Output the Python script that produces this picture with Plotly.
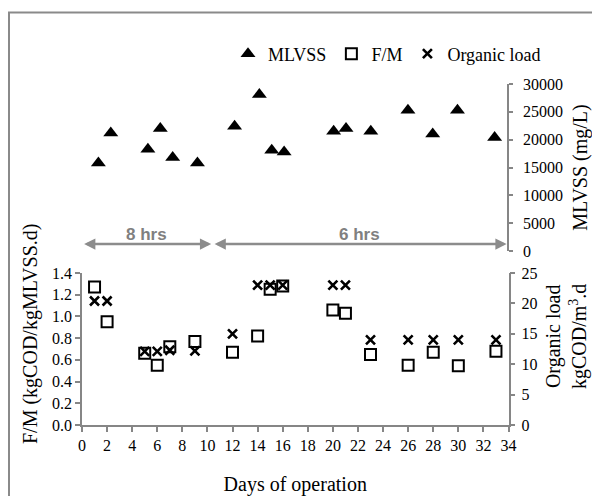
import plotly.graph_objects as go

# ---- data ----
days = [1, 2, 5, 6, 7, 9, 12, 14, 15, 16, 20, 21, 23, 26, 28, 30, 33]
mlvss = [15800, 21200, 18300, 22000, 16800, 15800, 22400, 28100, 18100,
         17800, 21500, 22000, 21500, 25300, 21000, 25300, 20400]
fm = [1.27, 0.95, 0.66, 0.55, 0.72, 0.77, 0.67, 0.82, 1.25, 1.28,
      1.06, 1.03, 0.65, 0.55, 0.67, 0.545, 0.68]
organic_load = [20.4, 20.4, 12.1, 12.1, 12.3, 12.2, 15.0, 23.0, 23.0, 23.0,
                23.0, 23.0, 14.0, 14.0, 14.0, 14.0, 14.0]
phase_start = [0.05, 10.45]
phase_end = [10.3, 33.85]
phase_labels = ["8 hrs", "6 hrs"]
x_ticks = list(range(0, 35, 2))

W, H = 592, 496
SERIF = "Liberation Serif"
AXIS_GRAY = "#868686"
ARROW_GRAY = "#8c8c8c"


def px_x(p):
    return p / W


def px_y(p):
    return 1 - p / H


fig = go.Figure()

fig.add_trace(go.Scatter(
    x=days, y=mlvss, mode="markers", name="MLVSS",
    xaxis="x2", yaxis="y3",
    marker=dict(symbol="triangle-up", size=13, color="black"),
))
fig.add_trace(go.Scatter(
    x=days, y=fm, mode="markers", name="F/M",
    xaxis="x", yaxis="y",
    marker=dict(symbol="square-open", size=11, color="black",
                line=dict(width=2, color="black")),
))
fig.add_trace(go.Scatter(
    x=days, y=organic_load, mode="markers", name="Organic load",
    xaxis="x", yaxis="y2",
    marker=dict(symbol="x-thin-open", size=9, color="black",
                line=dict(width=2.6, color="black")),
))

tick_font = dict(family=SERIF, size=16, color="black")
axis_common = dict(showline=True, linecolor=AXIS_GRAY, linewidth=1.5,
                   ticks="outside", tickcolor=AXIS_GRAY, tickwidth=1.5,
                   showgrid=False, zeroline=False, automargin=False)

fig.update_layout(
    width=W, height=H,
    font=dict(family=SERIF, size=16, color="black"),
    margin=dict(l=0, r=0, t=0, b=0, autoexpand=False),
    paper_bgcolor="white", plot_bgcolor="rgba(0,0,0,0)",
    showlegend=True,
    legend=dict(orientation="h", x=px_x(228), xanchor="left",
                y=px_y(54), yanchor="middle",
                font=dict(family=SERIF, size=18, color="black"),
                bgcolor="rgba(0,0,0,0)", itemwidth=30, tracegroupgap=0),
    xaxis=dict(domain=[px_x(82), px_x(508.5)], range=[0, 34],
               tickvals=x_ticks, ticklen=5, tickfont=tick_font,
               anchor="y", **axis_common,
               title=dict(text="Days of operation",
                          font=dict(family=SERIF, size=20, color="black"),
                          standoff=24)),
    yaxis=dict(domain=[px_y(425), px_y(273)], range=[0, 1.4], dtick=0.2,
               tickformat=".1f", ticklen=5, tickfont=tick_font, anchor="x",
               **axis_common),
    yaxis2=dict(overlaying="y", side="right", range=[0, 25], dtick=5,
                ticklen=5, tickfont=tick_font, anchor="x",
                ticklabelstandoff=3, **axis_common),
    xaxis2=dict(domain=[px_x(86), px_x(507)], range=[0, 34], visible=False,
                anchor="y3"),
    yaxis3=dict(domain=[px_y(251), px_y(84)], range=[0, 30000], dtick=5000,
                tickformat="d", side="right", anchor="x2",
                ticklen=4, tickfont=tick_font, ticklabelstandoff=7,
                **axis_common,
                title=dict(text="MLVSS (mg/L)",
                           font=dict(family=SERIF, size=20, color="black"),
                           standoff=12)),
)

# outer frame
fig.add_shape(type="rect", xref="paper", yref="paper",
              x0=px_x(9), x1=1.05, y0=-0.05, y1=px_y(12.5),
              line=dict(color="#8a8a8a", width=2), fillcolor="rgba(0,0,0,0)",
              layer="below")

annotations = []
# y-axis titles
annotations.append(dict(
    text="F/M (kgCOD/kgMLVSS.d)", xref="paper", yref="paper",
    x=px_x(30), y=px_y(334), textangle=-90, showarrow=False,
    xanchor="center", yanchor="middle",
    font=dict(family=SERIF, size=20, color="black")))
annotations.append(dict(
    text="Organic load<br>kgCOD/m<sup>3</sup>.d", xref="paper", yref="paper",
    x=px_x(566), y=px_y(337), textangle=-90, showarrow=False,
    xanchor="center", yanchor="middle",
    font=dict(family=SERIF, size=20, color="black")))

# HRT phase arrows
arrow_y = 1250
for s, e, lab in zip(phase_start, phase_end, phase_labels):
    annotations.append(dict(
        x=e, y=arrow_y, ax=s, ay=arrow_y, xref="x", yref="y3",
        axref="x", ayref="y3", text="", showarrow=True,
        arrowside="end+start", arrowhead=2, arrowsize=0.9,
        arrowwidth=2.5, arrowcolor=ARROW_GRAY, standoff=0, startstandoff=0))
    annotations.append(dict(
        x=(s + e) / 2, y=arrow_y, xref="x", yref="y3", text=lab,
        showarrow=False, yanchor="bottom", yshift=-2,
        font=dict(family="Liberation Sans", size=17,
                  color="#808080", weight="bold")))

fig.update_layout(annotations=annotations)

fig.write_html(
    "out.html",
    config={"displayModeBar": False},
    post_script="document.body.style.margin='0';document.body.style.padding='0';",
)
